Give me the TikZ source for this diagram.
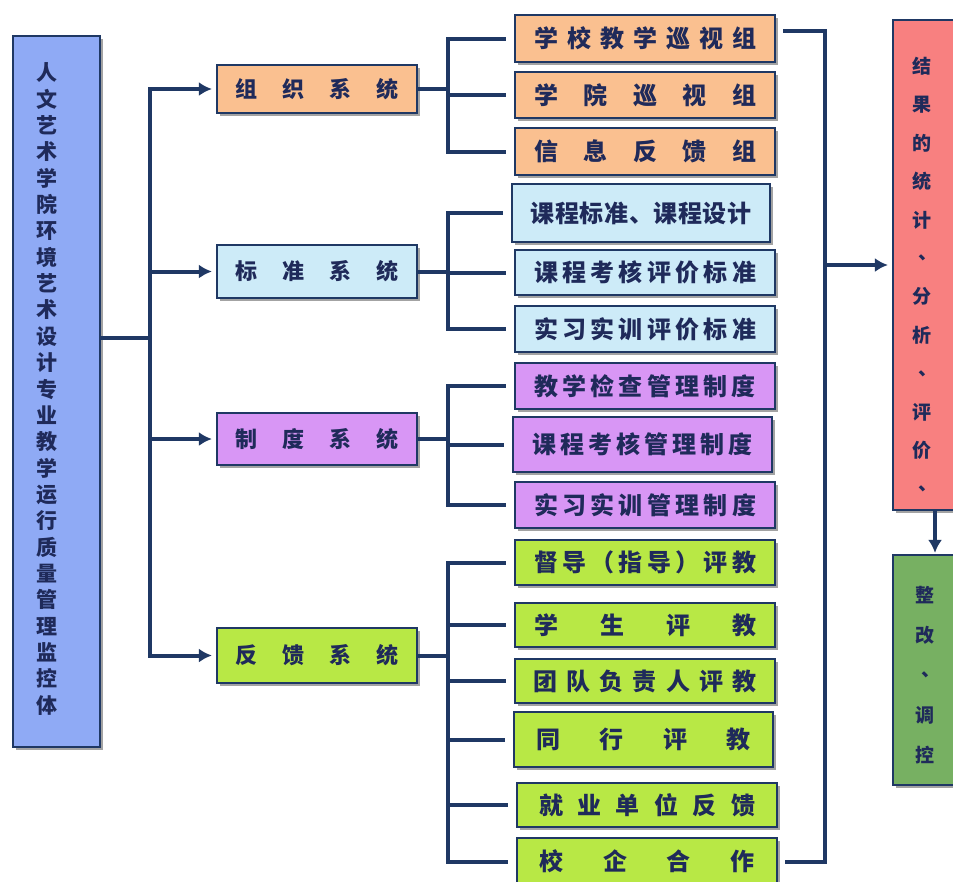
\documentclass[tikz,border=0pt]{standalone}
\usepackage{fontspec}
\newfontfamily\cjk{Noto Sans CJK SC}
\usetikzlibrary{shadows,arrows.meta,calc}
\definecolor{navy}{HTML}{1F3864}
\definecolor{txt}{HTML}{1F2A5A}
\definecolor{cleft}{HTML}{8FAAF5}
\definecolor{corange}{HTML}{FAC090}
\definecolor{cblue}{HTML}{CDEBF8}
\definecolor{cpurple}{HTML}{D896F5}
\definecolor{cgreen}{HTML}{B8E845}
\definecolor{cred}{HTML}{F88080}
\definecolor{cdgreen}{HTML}{77B062}
\newcommand\vdun{\raisebox{0.3em}{\kern0.3em 、\kern-0.3em}}
\begin{document}
\begin{tikzpicture}[x=1pt,y=-1pt,
  box/.style={draw=navy, line width=2.2pt, inner sep=0pt, text=txt,
    drop shadow={shadow xshift=3pt, shadow yshift=-3pt, fill=black!45, opacity=0.8},
    font=\cjk\bfseries\fontsize{24}{24}\selectfont},
  lvl/.style={box, minimum width=200pt, font=\cjk\bfseries\fontsize{22}{22}\selectfont},
  child/.style={box, minimum width=260pt},
  vtxt/.style={align=center, text=txt, inner sep=0pt},
  conn/.style={draw=navy, line width=4pt},
  arr/.style={conn, -{Latex[length=13pt,width=14pt]}, shorten >=4pt}]
\useasboundingbox (0,0) rectangle (953,881);
\clip (0,0) rectangle (953,881);
\fill[white] (0,0) rectangle (953,881);

% root
\node[box, fill=cleft, minimum width=87pt, minimum height=711pt] (root) at (56.5,391.5) {};
\node[vtxt, font=\cjk\bfseries\fontsize{21}{26.35}\selectfont] (roottxt) at (47,389)
 {人\\文\\艺\\术\\学\\院\\环\\境\\艺\\术\\设\\计\\专\\业\\教\\学\\运\\行\\质\\量\\管\\理\\监\\控\\体};

% level 1
\node[lvl, fill=corange, minimum height=48pt] (s1) at (317,89) {\makebox[163pt][s]{组\hfill 织\hfill 系\hfill 统}};
\node[lvl, fill=cblue, minimum height=53pt] (s2) at (317,271.5) {\makebox[163pt][s]{标\hfill 准\hfill 系\hfill 统}};
\node[lvl, fill=cpurple, minimum height=52pt] (s3) at (317,439) {\makebox[163pt][s]{制\hfill 度\hfill 系\hfill 统}};
\node[lvl, fill=cgreen, minimum height=55pt] (s4) at (317,655.5) {\makebox[163pt][s]{反\hfill 馈\hfill 系\hfill 统}};

% children A
\node[child, fill=corange, minimum height=47pt] (a1) at (645,38.5) {\makebox[222pt][s]{学\hfill 校\hfill 教\hfill 学\hfill 巡\hfill 视\hfill 组}};
\node[child, fill=corange, minimum height=46pt] (a2) at (645,95) {\makebox[222pt][s]{学\hfill 院\hfill 巡\hfill 视\hfill 组}};
\node[child, fill=corange, minimum height=47pt] (a3) at (645,151.5) {\makebox[222pt][s]{信\hfill 息\hfill 反\hfill 馈\hfill 组}};
% children B
\node[child, fill=cblue, minimum width=258pt, minimum height=58pt] (b1) at (641,213) {\makebox[221pt][s]{课\hfill 程\hfill 标\hfill 准\hfill 、\hfill 课\hfill 程\hfill 设\hfill 计}};
\node[child, fill=cblue, minimum height=45pt] (b2) at (645,272.5) {\makebox[222pt][s]{课\hfill 程\hfill 考\hfill 核\hfill 评\hfill 价\hfill 标\hfill 准}};
\node[child, fill=cblue, minimum height=46pt] (b3) at (645,329) {\makebox[222pt][s]{实\hfill 习\hfill 实\hfill 训\hfill 评\hfill 价\hfill 标\hfill 准}};
% children C
\node[child, fill=cpurple, minimum height=46pt] (c1) at (645,386) {\makebox[221pt][s]{教\hfill 学\hfill 检\hfill 查\hfill 管\hfill 理\hfill 制\hfill 度}};
\node[child, fill=cpurple, minimum width=259pt, minimum height=55pt] (c2) at (642.5,444.5) {\makebox[221pt][s]{课\hfill 程\hfill 考\hfill 核\hfill 管\hfill 理\hfill 制\hfill 度}};
\node[child, fill=cpurple, minimum height=46pt] (c3) at (645,505) {\makebox[222pt][s]{实\hfill 习\hfill 实\hfill 训\hfill 管\hfill 理\hfill 制\hfill 度}};
% children D
\node[child, fill=cgreen, minimum height=45pt] (d1) at (645,562.5) {\makebox[222pt][s]{督\hfill 导\hfill （\hfill 指\hfill 导\hfill ）\hfill 评\hfill 教}};
\node[child, fill=cgreen, minimum height=44pt] (d2) at (645,625) {\makebox[222pt][s]{学\hfill 生\hfill 评\hfill 教}};
\node[child, fill=cgreen, minimum height=44pt] (d3) at (645,681) {\makebox[224pt][s]{团\hfill 队\hfill 负\hfill 责\hfill 人\hfill 评\hfill 教}};
\node[child, fill=cgreen, minimum width=259pt, minimum height=55pt] (d4) at (643.5,739.5) {\makebox[215pt][s]{同\hfill 行\hfill 评\hfill 教}};
\node[child, fill=cgreen, minimum height=44pt] (d5) at (647,805) {\makebox[216pt][s]{就\hfill 业\hfill 单\hfill 位\hfill 反\hfill 馈}};
\node[child, fill=cgreen, minimum height=47pt] (d6) at (647,861.5) {\makebox[215pt][s]{校\hfill 企\hfill 合\hfill 作}};

% right boxes
\node[box, fill=cred, minimum width=72pt, minimum height=490pt] (red) at (929,265) {};
\node[vtxt, font=\cjk\bfseries\fontsize{19}{38.45}\selectfont] (redtxt) at (922,276.5)
 {结\\果\\的\\统\\计\\\vdun\\分\\析\\\vdun\\评\\价\\\vdun};
\node[box, fill=cdgreen, minimum width=72pt, minimum height=230pt] (grn) at (929,670) {};
\node[vtxt, font=\cjk\bfseries\fontsize{19}{40}\selectfont] (grntxt) at (925,675)
 {整\\改\\\vdun\\调\\控};

% trunk
\coordinate (tj) at (150,338);
\draw[conn] (root.east |- tj) -- (tj);
\draw[conn, line cap=rect] (tj |- s1.west) -- (tj |- s4.west);
\foreach \s in {s1,s2,s3,s4} \draw[arr] (tj |- \s.west) -- (\s.west);

% brackets
\coordinate (bx) at (448,0);
\foreach \p/\f/\l/\kids in {s1/a1/a3/{a1,a2,a3}, s2/b1/b3/{b1,b2,b3}, s3/c1/c3/{c1,c2,c3}, s4/d1/d6/{d1,d2,d3,d4,d5,d6}}{
  \draw[conn] (\p.east) -- (bx |- \p.east);
  \draw[conn, line cap=rect] (bx |- \f.west) -- (bx |- \l.west);
  \foreach \k in \kids \draw[conn] (bx |- \k.west) -- ([xshift=-8pt]\k.west);
}

% collector
\coordinate (rx) at (825,0);
\coordinate (ctop) at ([xshift=7pt,yshift=8pt]a1.east);
\coordinate (cbot) at ([xshift=7pt]d6.east);
\draw[conn, line join=miter] (ctop) -- (rx |- ctop) -- (rx |- cbot) -- (cbot);
\draw[arr] (rx |- red.west) -- (red.west);
\coordinate (dx) at (935,0);
\draw[arr, shorten >=1pt] (dx |- red.south) -- (dx |- grn.north);
\end{tikzpicture}
\end{document}
